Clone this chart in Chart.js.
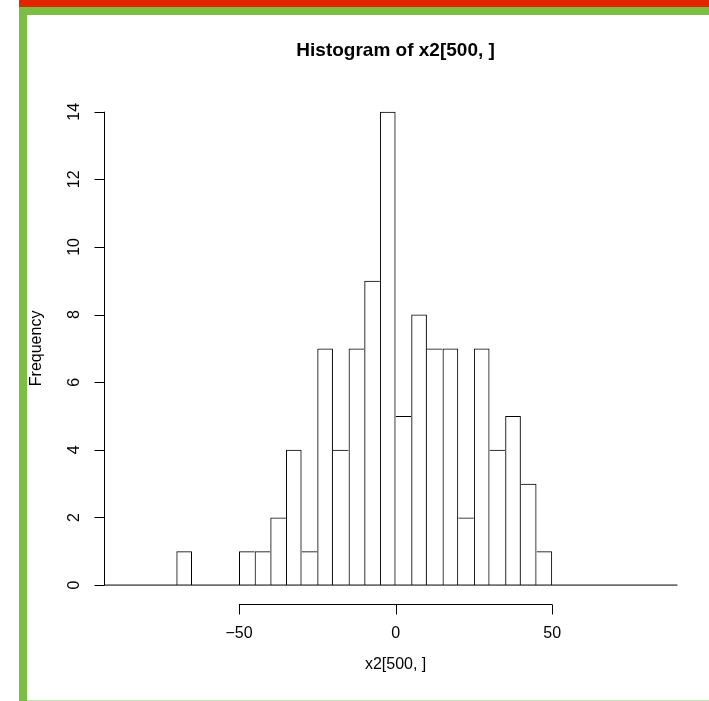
<!DOCTYPE html>
<html>
<head>
<meta charset="utf-8">
<title>Histogram of x2[500, ]</title>
<script src="https://cdn.jsdelivr.net/npm/chart.js@4/dist/chart.umd.min.js"></script>
<style>
    html, body { margin: 0; padding: 0; background: #fff; }
    #page { position: relative; width: 709px; height: 701px; overflow: hidden; background: #fff; }
    .band-red { position: absolute; left: 19px; top: 0; width: 690px; height: 7px; background: #e32400; }
    .band-green { position: absolute; left: 19px; top: 7px; width: 690px; height: 8px; background: #7bbe43; }
    .bar-left { position: absolute; left: 19px; top: 15px; width: 8px; height: 686px; background: #7bbe43; }
    .line-bottom { position: absolute; left: 27px; top: 700px; width: 682px; height: 1px; background: #c4e6a8; }
    canvas { position: absolute; left: 0; top: 0; }
</style>
</head>
<body>
<div id="page">
    <div class="band-red"></div>
    <div class="band-green"></div>
    <div class="bar-left"></div>
    <div class="line-bottom"></div>
    <canvas id="hist" width="709" height="701"></canvas>
</div>
<script>
// histogram breaks and counts
const breaks = [-95, -90, -85, -80, -75, -70, -65, -60, -55, -50, -45, -40, -35, -30, -25, -20, -15, -10, -5,
    0, 5, 10, 15, 20, 25, 30, 35, 40, 45, 50, 55, 60, 65, 70, 75, 80, 85, 90];
const counts = [0, 0, 0, 0, 0, 1, 0, 0, 0, 1, 1, 2, 4, 1, 7, 4, 7, 9, 14,
    5, 8, 7, 7, 2, 7, 4, 5, 3, 1, 0, 0, 0, 0, 0, 0, 0, 0];
const xTicks = [-50, 0, 50];
const xTickLabels = ["\u221250", "0", "50"];
const yTicks = [0, 2, 4, 6, 8, 10, 12, 14];

const titleText = "Histogram of x2[500, ]";
const xLabel = "x2[500, ]";
const yLabel = "Frequency";
const FONT = '"Liberation Sans", Arial, Helvetica, sans-serif';

document.addEventListener("DOMContentLoaded", function() {
    const ctx = document.getElementById("hist").getContext("2d");

    const barData = counts.map((c, i) => ({ x: (breaks[i] + breaks[i + 1]) / 2, y: c }));
    const baseline = [{ x: breaks[0], y: 0 }, { x: breaks[breaks.length - 1], y: 0 }];

    // shared edges drawn once, by the taller bar
    const edgeWidths = (c) => {
        const i = c.dataIndex;
        const here = counts[i];
        const prev = i > 0 ? counts[i - 1] : 0;
        const next = i < counts.length - 1 ? counts[i + 1] : 0;
        return { top: 1, bottom: 0, left: prev <= here ? 1 : 0, right: next < here ? 1 : 0 };
    };

    // R style axes and titles
    const rAxes = {
        id: "rAxes",
        afterDraw(chart) {
            const g = chart.ctx;
            const xs = chart.scales.x;
            const ys = chart.scales.y;
            const area = chart.chartArea;
            g.save();
            g.strokeStyle = "#000";
            g.fillStyle = "#000";
            g.lineWidth = 1;

            // x axis
            const axY = Math.round(area.bottom) + 0.5;
            g.beginPath();
            g.moveTo(xs.getPixelForValue(xTicks[0]), axY);
            g.lineTo(xs.getPixelForValue(xTicks[xTicks.length - 1]), axY);
            xTicks.forEach(v => {
                const px = Math.round(xs.getPixelForValue(v)) + 0.5;
                g.moveTo(px, axY);
                g.lineTo(px, axY + 10);
            });
            g.stroke();

            g.font = "16px " + FONT;
            g.textAlign = "center";
            g.textBaseline = "alphabetic";
            xTicks.forEach((v, i) => {
                g.fillText(xTickLabels[i], xs.getPixelForValue(v), 638);
            });

            // y axis
            const axX = Math.round(area.left) + 0.5;
            g.beginPath();
            g.moveTo(axX, ys.getPixelForValue(yTicks[0]));
            g.lineTo(axX, ys.getPixelForValue(yTicks[yTicks.length - 1]));
            yTicks.forEach(v => {
                const py = Math.round(ys.getPixelForValue(v)) + 0.5;
                g.moveTo(axX, py);
                g.lineTo(axX - 10, py);
            });
            g.stroke();

            yTicks.forEach(v => {
                g.save();
                g.translate(79, ys.getPixelForValue(v));
                g.rotate(-Math.PI / 2);
                g.fillText(String(v), 0, 0);
                g.restore();
            });

            // labels
            g.fillText(xLabel, xs.getPixelForValue(0), 669);
            g.save();
            g.translate(41, (area.top + area.bottom) / 2);
            g.rotate(-Math.PI / 2);
            g.fillText(yLabel, 0, 0);
            g.restore();

            g.font = "bold 19px " + FONT;
            g.fillText(titleText, xs.getPixelForValue(0), 56);
            g.restore();
        }
    };

    new Chart(ctx, {
        type: "bar",
        data: {
            datasets: [{
                data: barData,
                backgroundColor: "rgba(255,255,255,0)",
                borderColor: "#000",
                borderWidth: edgeWidths,
                borderSkipped: false,
                inflateAmount: 0,
                barPercentage: 1,
                categoryPercentage: 1
            }, {
                type: "line",
                data: baseline,
                borderColor: "#000",
                borderWidth: 1,
                pointRadius: 0,
                fill: false
            }]
        },
        options: {
            responsive: false,
            animation: false,
            devicePixelRatio: 1,
            layout: { padding: { left: 104, right: 9, top: 92.8, bottom: 97 } },
            plugins: {
                legend: { display: false },
                tooltip: { enabled: false },
                title: { display: false }
            },
            scales: {
                x: { type: "linear", min: -93.1, max: 97.2, offset: false, display: false },
                y: { min: -0.56, max: 14.56, display: false }
            }
        },
        plugins: [rAxes]
    });
});
</script>
</body>
</html>
